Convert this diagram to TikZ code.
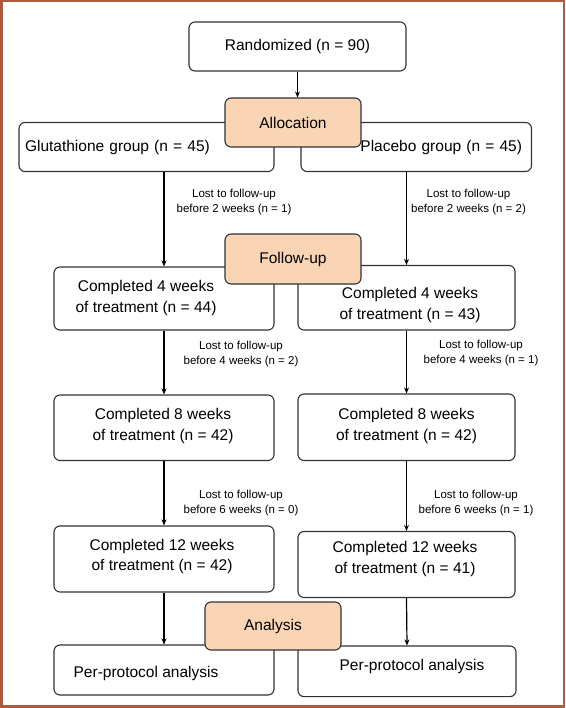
\documentclass[tikz,border=0pt]{standalone}
\usepackage{fontspec}
\setmainfont{Liberation Sans}
\usetikzlibrary{arrows.meta}
\definecolor{framec}{RGB}{172,92,62}
\definecolor{peach}{RGB}{249,213,182}
\definecolor{edgec}{RGB}{50,50,50}
\begin{document}
\begin{tikzpicture}[x=1pt,y=-1pt,
  box/.style={draw=edgec, line width=1.1pt, rounded corners=6pt, fill=white, inner sep=0pt},
  stage/.style={draw=edgec, line width=1.1pt, rounded corners=6pt, fill=peach, minimum width=136pt, minimum height=49pt, inner sep=0pt, font=\fontsize{15.5}{18}\selectfont},
  txt/.style={align=center, inner sep=0pt, font=\fontsize{15.5}{20.5}\selectfont},
  note/.style={align=center, inner sep=0pt, font=\fontsize{11.5}{15}\selectfont},
  arr/.style={-{Stealth[length=6pt,width=5pt]}, line width=1.2pt, draw=black}
]
\useasboundingbox (0,0) rectangle (565,708);
\fill[white] (0,0) rectangle (565,708);
\draw[framec, line width=2.5pt] (1.25,1.25) rectangle (563.75,706.25);

% top
\node[box, minimum width=217pt, minimum height=49pt, txt] (rand) at (297.5,46.5) {Randomized (n = 90)};
\node[box, minimum height=49pt, text width=243pt, inner xsep=6pt, align=left, font=\fontsize{15.5}{18}\selectfont] (glut) at (146.5,147) {Glutathione group (n = 45)};
\node[box, minimum height=49pt, text width=211.5pt, inner xsep=9.5pt, align=right, font=\fontsize{15.5}{18}\selectfont] (plac) at (416.25,147) {Placebo group (n = 45)};
\node[stage] (alloc) at (293,122.5) {Allocation};
\draw[arr] (rand.south) -- (rand.south |- alloc.north);

% 4 weeks
\node[box, minimum width=220pt, minimum height=63pt] (c4L) at (164,298.5) {};
\node[txt] (c4Lt) at (146,298) {Completed 4 weeks\\of treatment (n = 44)};
\node[box, minimum width=217pt, minimum height=64.5pt] (c4R) at (406.5,297.75) {};
\node[txt] (c4Rt) at (410,305) {Completed 4 weeks\\of treatment (n = 43)};
\node[stage, minimum height=50pt] (fu) at (293,259) {Follow-up};
\draw[arr] (c4L.north |- glut.south) -- (c4L.north);
\draw[arr] (c4R.north |- plac.south) -- (c4R.north);
\node[note] (l1) at (234,202.5) {Lost to follow-up\\before 2 weeks (n = 1)};
\node[note] (r1) at (468.5,202.5) {Lost to follow-up\\before 2 weeks (n = 2)};

% 8 weeks
\node[box, minimum width=220pt, minimum height=65.5pt] (c8L) at (164,427.75) {};
\node[txt] (c8Lt) at (163,426) {Completed 8 weeks\\of treatment (n = 42)};
\node[box, minimum width=217pt, minimum height=66.5pt] (c8R) at (406.5,427.25) {};
\node[txt] (c8Rt) at (406.5,426) {Completed 8 weeks\\of treatment (n = 42)};
\draw[arr] (c4L.south) -- (c8L.north);
\draw[arr] (c4R.south) -- (c8R.north);
\node[note] (l2) at (241,354.5) {Lost to follow-up\\before 4 weeks (n = 2)};
\node[note] (r2) at (481,353) {Lost to follow-up\\before 4 weeks (n = 1)};

% 12 weeks
\node[box, minimum width=220pt, minimum height=66pt] (c12L) at (164,559) {};
\node[txt] (c12Lt) at (162,556.5) {Completed 12 weeks\\of treatment (n = 42)};
\node[box, minimum width=217pt, minimum height=66pt] (c12R) at (406.5,564.5) {};
\node[txt] (c12Rt) at (405,559) {Completed 12 weeks\\of treatment (n = 41)};
\draw[arr] (c8L.south) -- (c12L.north);
\draw[arr] (c8R.south) -- (c12R.north);
\node[note] (l3) at (241,503) {Lost to follow-up\\before 6 weeks (n = 0)};
\node[note] (r3) at (476,503) {Lost to follow-up\\before 6 weeks (n = 1)};

% analysis
\node[box, minimum width=220pt, minimum height=50pt] (ppL) at (164,670) {};
\node[txt] (ppLt) at (146,673) {Per-protocol analysis};
\node[box, minimum width=218pt, minimum height=50.6pt] (ppR) at (407,671.3) {};
\node[txt] (ppRt) at (412,666) {Per-protocol analysis};
\node[stage, minimum height=48pt] (an) at (273,626) {Analysis};
\draw[arr] (c12L.south) -- (ppL.north);
\draw[arr] (c12R.south) -- (ppR.north);
\end{tikzpicture}
\end{document}
